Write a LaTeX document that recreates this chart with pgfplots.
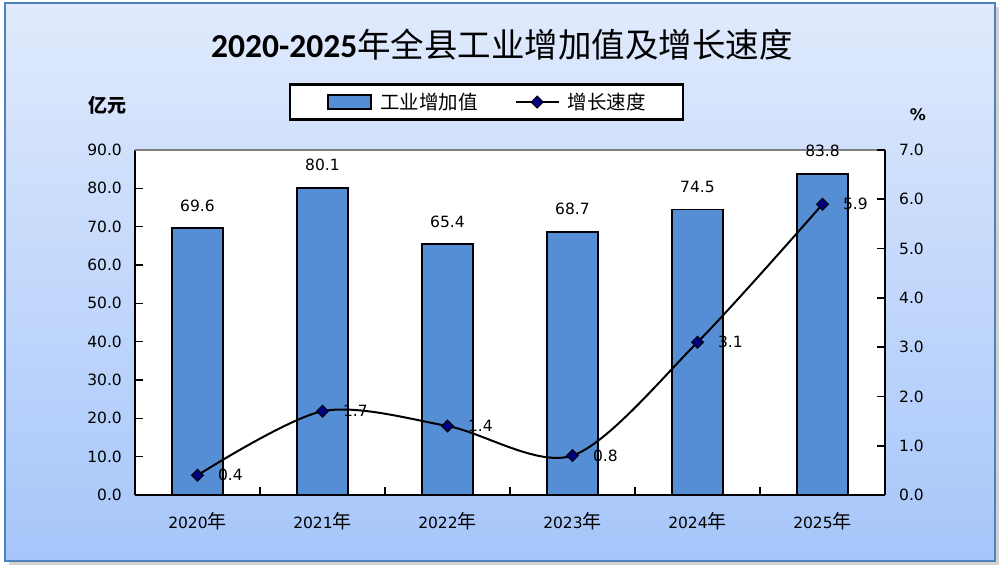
\documentclass[border=0pt]{standalone}
\usepackage{pgfplots}
\pgfplotsset{compat=1.18}
\usepackage{pgfplotstable}
\usepackage{fontspec}
\setmainfont{DejaVu Sans}
\newfontfamily\cjk{Noto Sans CJK SC}
\newfontfamily\carlito{Carlito}
\definecolor{barblue}{RGB}{85,142,213}
\definecolor{framecol}{RGB}{79,129,189}
\definecolor{bgtop}{RGB}{224,234,252}
\definecolor{bgbot}{RGB}{166,198,250}
\definecolor{mk}{RGB}{0,0,128}
\newcommand{\nian}{{\fontsize{19}{20}\selectfont\cjk 年}}
\newcommand{\numfont}{\fontsize{15.5}{18}\selectfont}

\pgfplotstableread{
x y
0 69.6
1 80.1
2 65.4
3 68.7
4 74.5
5 83.8
}\bars
\pgfplotstableread{
x y
0 0.4
1 1.7
2 1.4
3 0.8
4 3.1
5 5.9
}\rates

\begin{document}
\begin{tikzpicture}[x=1pt,y=1pt]
\path[use as bounding box] (0pt,0pt) rectangle (1002pt,571pt);
\fill[black!40, opacity=0.45] (9pt,6pt) rectangle (999pt,564pt);
\shade[top color=bgtop, bottom color=bgbot] (5pt,10pt) rectangle (995pt,568pt);
\draw[framecol, line width=2pt] (5pt,10pt) rectangle (995pt,568pt);

\node at (502pt,526pt) {\fontsize{33.5}{36}\selectfont{\carlito\bfseries 2020-2025}{\cjk 年全县工业增加值及增长速度}};
\node at (107pt,466pt) {\fontsize{19}{20}\selectfont\cjk\bfseries 亿元};
\node at (918pt,456pt) {\fontsize{16}{18}\selectfont\bfseries \%};

\begin{axis}[
  at={(135pt,76pt)}, anchor=south west,
  width=750pt, height=345pt, scale only axis,
  xmin=-0.5, xmax=5.5, ymin=0, ymax=90,
  clip=false,
  axis x line*=bottom, axis y line*=left,
  axis line style={black, line width=1.6pt, -},
  axis background/.style={fill=white},
  xtick={-0.5,0.5,...,5.5},
  x tick label as interval,
  xticklabels={2020\nian,2021\nian,2022\nian,2023\nian,2024\nian,2025\nian,{}},
  ytick={0,10,...,90},
  tick align=inside,
  major tick length=8pt,
  tick style={black, line width=1.6pt},
  /pgf/number format/assume math mode=true,
  yticklabel style={font=\numfont, inner sep=0pt, xshift=-13pt,
    /pgf/number format/.cd, fixed, fixed zerofill, precision=1},
  xticklabel style={font=\numfont, inner sep=0pt, anchor=base, yshift=-33pt},
]
\addplot[ybar, bar width=51pt, fill=barblue, draw=black, line width=1.8pt,
  nodes near coords={\pgfmathprintnumber[fixed,fixed zerofill,precision=1]{\pgfplotspointmeta}},
  every node near coord/.append style={font=\numfont, anchor=base, yshift=17pt, text=black, inner sep=0pt}]
  table[x=x,y=y]{\bars};
\draw[black!50, line width=1.6pt] (rel axis cs:0,1) -- (rel axis cs:1,1);
\end{axis}

\begin{axis}[
  at={(135pt,76pt)}, anchor=south west,
  width=750pt, height=345pt, scale only axis,
  xmin=-0.5, xmax=5.5, ymin=0, ymax=7,
  clip=false,
  axis x line=none, axis y line*=right,
  axis line style={black, line width=1.6pt, -},
  ytick={0,1,...,7},
  tick align=inside,
  major tick length=8pt,
  tick style={black, line width=1.6pt},
  /pgf/number format/assume math mode=true,
  yticklabel style={font=\numfont, inner sep=0pt, xshift=14pt,
    /pgf/number format/.cd, fixed, fixed zerofill, precision=1},
  legend columns=2,
  legend style={at={(0.4687,1.139)}, anchor=center, draw=black, line width=2.2pt,
    fill=white, inner xsep=37pt, inner ysep=8.5pt,
    font=\fontsize{19.5}{22}\selectfont\cjk,
    nodes={inner sep=0pt},
    /tikz/every odd column/.append style={column sep=8pt},
    /tikz/every even column/.append style={column sep=37pt}},
]
\addlegendimage{legend image code/.code={\draw[fill=barblue, draw=black, line width=1.8pt] (0pt,-7pt) rectangle (43pt,7pt);}}
\addlegendentry{工业增加值}
\addplot[black, line width=2pt, smooth, mark=square*, mark size=4.2pt,
  mark options={rotate=45, fill=mk, draw=black, line width=1pt, solid},
  legend image code/.code={\draw[mark repeat=2, mark phase=2] plot coordinates {(0pt,0pt) (21.5pt,0pt) (43pt,0pt)};},
  nodes near coords={\pgfmathprintnumber[fixed,fixed zerofill,precision=1]{\pgfplotspointmeta}},
  every node near coord/.append style={font=\numfont, anchor=west, xshift=20pt, text=black, inner sep=0pt}]
  table[x=x,y=y]{\rates};
\addlegendentry{增长速度}
\end{axis}
\end{tikzpicture}
\end{document}
